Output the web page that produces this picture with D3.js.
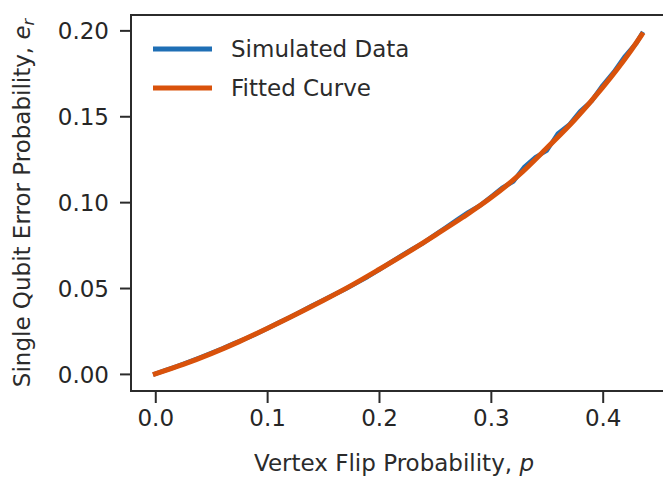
<!DOCTYPE html>
<html>
<head>
<meta charset="utf-8">
<script src="https://cdn.jsdelivr.net/npm/d3@7"></script>
<style>
  body { margin: 0; background: #fff; }
  svg { display: block; font-family: "DejaVu Sans", sans-serif; }
  .tick text { fill: #262626; font-size: 23px; }
</style>
</head>
<body>
<svg id="chart" width="663" height="479"></svg>
<script>
// data
var simP = [0, 0.01, 0.02, 0.03, 0.04, 0.05, 0.06, 0.07, 0.08, 0.09, 0.10,
            0.11, 0.12, 0.13, 0.14, 0.15, 0.16, 0.17, 0.18, 0.19, 0.20,
            0.21, 0.22, 0.23, 0.24, 0.25, 0.26, 0.27, 0.28, 0.29, 0.30,
            0.31, 0.32, 0.33, 0.34, 0.35, 0.36, 0.37, 0.38, 0.39, 0.40,
            0.41, 0.42, 0.43, 0.435];
var simE = [0, 0.0024, 0.0046, 0.0070, 0.0095, 0.0121, 0.0147, 0.0176, 0.0203, 0.0232, 0.0265,
            0.0297, 0.0328, 0.0362, 0.0397, 0.0429, 0.0462, 0.0494, 0.0530, 0.0566, 0.0606,
            0.0647, 0.0688, 0.0727, 0.0764, 0.0809, 0.0853, 0.0898, 0.0942, 0.0979, 0.1030,
            0.1082, 0.1120, 0.1205, 0.1262, 0.1300, 0.1400, 0.1450, 0.1530, 0.1588, 0.1680,
            0.1758, 0.1850, 0.1925, 0.1980];
var fitP = [0, 0.025, 0.05, 0.075, 0.1, 0.125, 0.15, 0.175, 0.2, 0.225, 0.25,
            0.275, 0.3, 0.325, 0.35, 0.375, 0.4, 0.425, 0.435];
var fitE = [0, 0.0055, 0.0118, 0.0188, 0.0264, 0.0344, 0.0427, 0.0514, 0.0608, 0.0705, 0.0807,
            0.0912, 0.1025, 0.1157, 0.1315, 0.1480, 0.1668, 0.1880, 0.1975];
var xTicks = [0, 0.1, 0.2, 0.3, 0.4];
var yTicks = [0, 0.05, 0.10, 0.15, 0.20];
var seriesNames = ["Simulated Data", "Fitted Curve"];
var colors = ["#1f6fb5", "#d9520b"];

var svg = d3.select("#chart");
var pLeft = 131, pRight = 665, pTop = 15, pBottom = 391;
var ink = "#2b2b2b";

var x = d3.scaleLinear().domain([-0.0217, 0.4557]).range([pLeft, pRight]);
var y = d3.scaleLinear().domain([-0.00995, 0.20895]).range([pBottom, pTop]);

// axes
var xAxis = svg.append("g")
    .attr("transform", "translate(0," + pBottom + ")")
    .call(d3.axisBottom(x).tickValues(xTicks).tickFormat(d3.format(".1f"))
        .tickSizeInner(12).tickSizeOuter(0).tickPadding(7));
var yAxis = svg.append("g")
    .attr("transform", "translate(" + pLeft + ",0)")
    .call(d3.axisLeft(y).tickValues(yTicks).tickFormat(d3.format(".2f"))
        .tickSizeInner(11).tickSizeOuter(0).tickPadding(11));
[xAxis, yAxis].forEach(function(g) {
    g.select(".domain").remove();
    g.selectAll(".tick line").attr("stroke", ink).attr("stroke-width", 2);
    g.selectAll(".tick text").attr("font-family", "DejaVu Sans");
});
yAxis.selectAll(".tick text").attr("dy", "0.36em");

// spines
svg.append("path")
    .attr("d", "M" + pRight + "," + pTop + "H" + pLeft + "V" + pBottom + "H" + pRight)
    .attr("fill", "none").attr("stroke", ink).attr("stroke-width", 2);

// lines
var line = d3.line().x(d => x(d[0])).y(d => y(d[1]));
svg.append("path")
    .datum(d3.zip(simP, simE))
    .attr("d", line)
    .attr("fill", "none").attr("stroke", colors[0]).attr("stroke-width", 4.5)
    .attr("stroke-linejoin", "round").attr("stroke-linecap", "square");
svg.append("path")
    .datum(d3.zip(fitP, fitE))
    .attr("d", d3.line().curve(d3.curveMonotoneX).x(d => x(d[0])).y(d => y(d[1])))
    .attr("fill", "none").attr("stroke", colors[1]).attr("stroke-width", 5)
    .attr("stroke-linejoin", "round").attr("stroke-linecap", "square");

// legend
var legend = svg.append("g");
seriesNames.forEach(function(name, i) {
    var ly = 49 + i * 39;
    legend.append("line")
        .attr("x1", 155.5).attr("x2", 209.5).attr("y1", ly).attr("y2", ly)
        .attr("stroke", colors[i]).attr("stroke-width", 5).attr("stroke-linecap", "square");
    legend.append("text")
        .attr("x", 231).attr("y", ly).attr("dy", "0.36em")
        .attr("fill", ink).attr("font-size", 23)
        .text(name);
});

// axis labels
var xl = svg.append("text")
    .attr("x", (pLeft + pRight) / 2 - 4).attr("y", 471)
    .attr("text-anchor", "middle").attr("fill", ink).attr("font-size", 23);
xl.append("tspan").text("Vertex Flip Probability, ");
xl.append("tspan").attr("font-style", "italic").text("p");

var yl = svg.append("text")
    .attr("transform", "translate(30," + (pTop + pBottom) / 2 + ") rotate(-90)")
    .attr("text-anchor", "middle").attr("fill", ink).attr("font-size", 23);
yl.append("tspan").text("Single Qubit Error Probability, ");
yl.append("tspan").attr("font-style", "italic").text("e");
yl.append("tspan").attr("font-style", "italic").attr("font-size", 16)
    .attr("dy", 4).text("r");
</script>
</body>
</html>
